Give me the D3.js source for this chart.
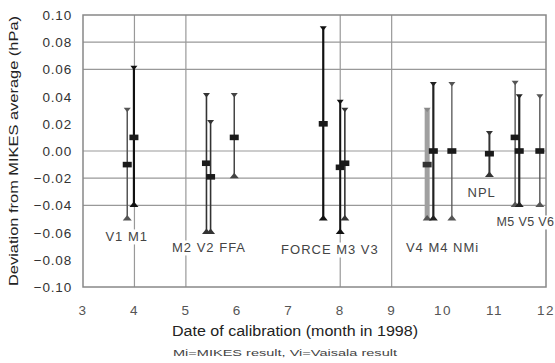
<!DOCTYPE html>
<html>
<head>
<meta charset="utf-8">
<script src="https://cdn.jsdelivr.net/npm/d3@7"></script>
<style>
  body { margin: 0; background: #fff; }
  svg { display: block; font-family: "Liberation Sans", Arial, sans-serif; }
</style>
</head>
<body>
<div id="chart"></div>
<script>
// results (hPa deviation from MIKES average)
const names   = ['V1', 'M1', 'M2', 'V2', 'FFA', 'FORCE', 'M3', 'V3', 'V4', 'M4', 'NMi', 'NPL', 'M5', 'V5', 'V6'];
const months  = [3.86, 3.99, 5.40, 5.48, 5.94, 7.67, 8.00, 8.09, 9.69, 9.81, 10.17, 10.90, 11.40, 11.48, 11.88];
const centers = [-0.010, 0.010, -0.009, -0.019, 0.010, 0.020, -0.012, -0.009, -0.010, 0.000, 0.000, -0.002, 0.010, 0.000, 0.000];
const upper   = [0.031, 0.062, 0.042, 0.022, 0.042, 0.091, 0.037, 0.031, 0.031, 0.050, 0.050, 0.014, 0.051, 0.041, 0.041];
const lower   = [-0.050, -0.040, -0.060, -0.060, -0.019, -0.050, -0.060, -0.050, -0.050, -0.050, -0.050, -0.018, -0.040, -0.040, -0.040];

const groupLabels = ['V1 M1', 'M2 V2 FFA', 'FORCE M3 V3', 'V4 M4 NMi', 'NPL', 'M5 V5 V6'];
const labelMonth  = [3.85, 5.45, 7.80, 9.99, 10.75, 11.60];
const labelValue  = [-0.0665, -0.0746, -0.0761, -0.0739, -0.0335, -0.0555];

const xTicks = [3, 4, 5, 6, 7, 8, 9, 10, 11, 12];
const yTicks = [0.10, 0.08, 0.06, 0.04, 0.02, 0.00, -0.02, -0.04, -0.06, -0.08, -0.10];
const hGrid = [0.08, 0.06, 0.00, -0.02, -0.04];
const vGrid = [4, 5, 8, 9];

const width = 555, height = 363;
const margin = {top: 15, right: 9, bottom: 76, left: 83};

// line look per series
const styles = {
  V1: ['#555', 1.5], M1: ['#111', 2.2], M2: ['#333', 1.6], V2: ['#333', 1.6], FFA: ['#444', 1.5],
  FORCE: ['#111', 2.2], M3: ['#111', 2], V3: ['#333', 1.6], V4: ['#a0a0a0', 5], M4: ['#222', 2.2],
  NMi: ['#555', 1.3], NPL: ['#333', 2], M5: ['#555', 1.4], V5: ['#222', 2.2], V6: ['#555', 1.4]
};

const svg = d3.select('#chart').append('svg')
  .attr('width', width)
  .attr('height', height);

const x = d3.scaleLinear().domain([3, 12]).range([margin.left, width - margin.right]);
const y = d3.scaleLinear().domain([-0.10, 0.10]).range([height - margin.bottom, margin.top]);

// grid
svg.append('g').selectAll('line.h')
  .data(hGrid).enter().append('line')
  .attr('x1', x(3)).attr('x2', x(12))
  .attr('y1', d => y(d)).attr('y2', d => y(d))
  .attr('stroke', '#999').attr('stroke-width', 1.2);

svg.append('g').selectAll('line.v')
  .data(vGrid).enter().append('line')
  .attr('x1', d => x(d)).attr('x2', d => x(d))
  .attr('y1', y(0.10)).attr('y2', y(-0.10))
  .attr('stroke', '#999').attr('stroke-width', 1.2);

svg.append('rect')
  .attr('x', x(3)).attr('y', y(0.10))
  .attr('width', x(12) - x(3)).attr('height', y(-0.10) - y(0.10))
  .attr('fill', 'none').attr('stroke', '#888').attr('stroke-width', 1.5);

// group labels (white box hides the grid behind)
const lab = svg.append('g').selectAll('g')
  .data(groupLabels).enter().append('g');
lab.append('text')
  .attr('x', (d, i) => x(labelMonth[i]))
  .attr('y', (d, i) => y(labelValue[i]))
  .attr('text-anchor', 'middle')
  .attr('font-size', (d, i) => i === groupLabels.length - 1 ? 12.5 : 13)
  .attr('letter-spacing', (d, i) => i === groupLabels.length - 1 ? 0.4 : 1)
  .attr('fill', '#444')
  .text(d => d);
lab.each(function () {
  const b = d3.select(this).select('text').node().getBBox();
  d3.select(this).insert('rect', 'text')
    .attr('x', b.x - 2).attr('y', b.y).attr('width', b.width + 4).attr('height', b.height)
    .attr('fill', '#fff');
});

// error bars
const bars = svg.append('g').selectAll('g')
  .data(names).enter().append('g');

bars.append('line')
  .attr('x1', (d, i) => x(months[i])).attr('x2', (d, i) => x(months[i]))
  .attr('y1', (d, i) => y(upper[i])).attr('y2', (d, i) => y(lower[i]))
  .attr('stroke', d => styles[d][0])
  .attr('stroke-width', d => styles[d][1]);

// top cap: small down triangle
bars.append('path')
  .attr('d', (d, i) => {
    const cx = x(months[i]), cy = y(upper[i]);
    return `M${cx - 3.5},${cy - 1}L${cx + 3.5},${cy - 1}L${cx},${cy + 3.5}Z`;
  })
  .attr('fill', d => d === 'V4' ? '#888' : styles[d][0]);

// bottom cap: up triangle
bars.append('path')
  .attr('d', (d, i) => {
    const cx = x(months[i]), cy = y(lower[i]);
    return `M${cx - 4.5},${cy + 1.5}L${cx + 4.5},${cy + 1.5}L${cx},${cy - 4}Z`;
  })
  .attr('fill', d => d === 'V4' ? '#555' : styles[d][0]);

// centre marker
bars.append('rect')
  .attr('x', (d, i) => x(months[i]) - 4.5)
  .attr('y', (d, i) => y(centers[i]) - 2.8)
  .attr('width', 9).attr('height', 5.6)
  .attr('fill', d => d === 'V4' ? '#333' : '#1a1a1a');

// y tick labels
svg.append('g').selectAll('text')
  .data(yTicks).enter().append('text')
  .attr('x', margin.left - 11)
  .attr('y', d => y(d) + 5)
  .attr('text-anchor', 'end')
  .attr('font-size', 13.5)
  .attr('letter-spacing', 0.8)
  .attr('fill', '#333')
  .text(d => d3.format('.2f')(d));

// x tick labels
svg.append('g').selectAll('text')
  .data(xTicks).enter().append('text')
  .attr('x', d => x(d))
  .attr('y', 315)
  .attr('text-anchor', 'middle')
  .attr('font-size', 13.5)
  .attr('letter-spacing', 1.5)
  .attr('fill', '#555')
  .text(d => d);

// titles
svg.append('text')
  .attr('x', 295).attr('y', 336)
  .attr('text-anchor', 'middle')
  .attr('font-size', 14)
  .attr('textLength', 246).attr('lengthAdjust', 'spacingAndGlyphs')
  .attr('fill', '#222')
  .text('Date of calibration (month in 1998)');

svg.append('text')
  .attr('x', 285).attr('y', 356)
  .attr('text-anchor', 'middle')
  .attr('font-size', 9)
  .attr('textLength', 224).attr('lengthAdjust', 'spacingAndGlyphs')
  .attr('fill', '#444')
  .text('Mi=MIKES result, Vi=Vaisala result');

svg.append('text')
  .attr('transform', `translate(18,${(y(0.10) + y(-0.10)) / 2}) rotate(-90)`)
  .attr('text-anchor', 'middle')
  .attr('font-size', 13)
  .attr('textLength', 270).attr('lengthAdjust', 'spacingAndGlyphs')
  .attr('fill', '#222')
  .text('Deviation from MIKES average (hPa)');
</script>
</body>
</html>
